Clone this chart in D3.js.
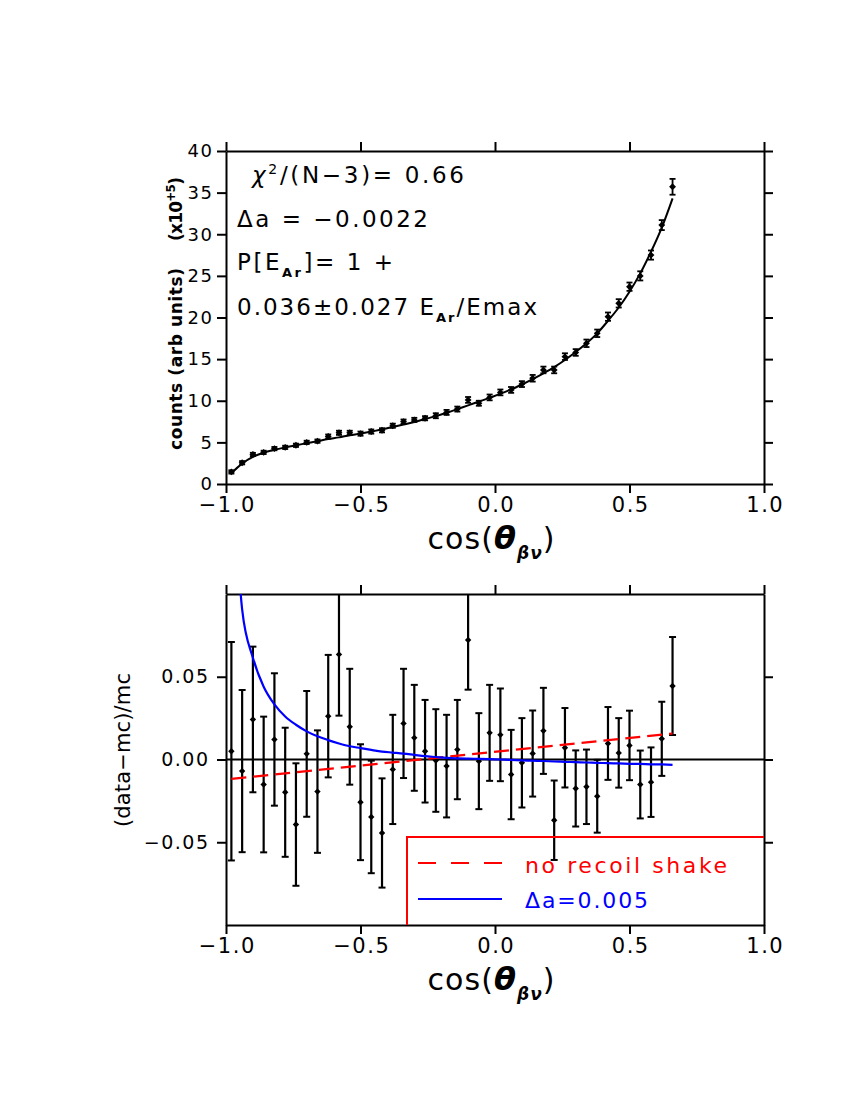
<!DOCTYPE html>
<html><head><meta charset="utf-8">
<script src="https://cdn.jsdelivr.net/npm/d3@7"></script>
<style>
body{margin:0;background:#fff}
svg{display:block}
text{font-family:"DejaVu Sans",Arial,Helvetica,sans-serif}
</style>
</head><body>
<svg id="c" width="850" height="1100"></svg>
<script>
// ---------------- data ----------------
const cosTheta = [-0.98,-0.94,-0.90,-0.86,-0.82,-0.78,-0.74,-0.70,-0.66,-0.62,-0.58,-0.54,-0.50,-0.46,-0.42,-0.38,-0.34,-0.30,-0.26,-0.22,-0.18,-0.14,-0.10,-0.06,-0.02,0.02,0.06,0.10,0.14,0.18,0.22,0.26,0.30,0.34,0.38,0.42,0.46,0.50,0.54,0.58,0.62,0.66];
const counts = [1.45,2.55,3.55,3.8,4.25,4.4,4.65,5.0,5.15,5.7,6.15,6.15,6.05,6.3,6.45,7.0,7.5,7.7,7.9,8.2,8.6,9.0,10.1,9.7,10.4,11.0,11.3,12.0,12.7,13.7,13.7,15.3,15.8,16.9,18.1,20.1,21.7,23.7,25.0,27.5,31.1,35.7];
const countsErr = [0.2,0.2,0.2,0.2,0.2,0.2,0.2,0.2,0.2,0.25,0.25,0.25,0.25,0.25,0.25,0.25,0.25,0.25,0.25,0.3,0.3,0.3,0.35,0.3,0.35,0.35,0.35,0.35,0.4,0.4,0.4,0.4,0.4,0.45,0.45,0.5,0.5,0.5,0.55,0.55,0.6,0.95];
const countsFit = [1.3,2.45,3.25,3.75,4.1,4.4,4.65,4.9,5.15,5.4,5.6,5.85,6.05,6.3,6.55,6.85,7.15,7.45,7.8,8.15,8.55,9.0,9.45,9.9,10.35,10.85,11.35,11.95,12.6,13.3,14.05,14.9,15.85,16.9,18.1,19.6,21.2,23.1,25.3,27.9,30.8,34.3];
const resid = [0.005,-0.007,0.0242,-0.0151,0.0121,-0.0198,-0.0393,0.0034,-0.0194,0.0262,0.0635,0.0198,-0.0258,-0.0347,-0.0444,-0.006,0.0218,0.0131,0.005,-0.0006,-0.004,0.006,0.0722,-0.001,0.0161,0.0149,-0.0091,-0.002,0.0036,0.0173,-0.0367,0.0071,-0.0175,-0.0165,-0.0222,0.0097,0.004,0.0085,-0.0151,-0.0137,0.0125,0.0444];
const residErr = [0.066,0.049,0.044,0.041,0.040,0.039,0.037,0.038,0.037,0.037,0.037,0.035,0.035,0.034,0.033,0.033,0.033,0.032,0.031,0.031,0.031,0.030,0.030,0.029,0.029,0.028,0.027,0.027,0.026,0.026,0.024,0.024,0.023,0.0225,0.022,0.022,0.021,0.021,0.0205,0.021,0.0224,0.0296];
const noShakeX = [-0.98,0.66];
const noShakeY = [-0.0117,0.0157];
const deltaA005 = [0.19,0.0907,0.0615,0.044,0.0333,0.026,0.021,0.017,0.014,0.0117,0.0097,0.008,0.0069,0.0058,0.0048,0.0042,0.0036,0.0028,0.002,0.0015,0.001,0.0007,0.0005,0.0004,0.0002,0.0,-0.0002,-0.0005,-0.0007,-0.0009,-0.0012,-0.0014,-0.0016,-0.0018,-0.002,-0.0022,-0.0024,-0.0026,-0.0027,-0.0029,-0.003,-0.0032];
const xTicks = [-1.0,-0.5,0.0,0.5,1.0];
const countTicks = [0,5,10,15,20,25,30,35,40];
const residTicks = [-0.05,0.00,0.05];
const legendLabels = ["no recoil shake","Δa=0.005"];

// ---------------- layout ----------------
const svg = d3.select("#c");
const X0 = 226, X1 = 764;
const pTop = {t:151, b:484};
const pBot = {t:594, b:925};
const x = d3.scaleLinear().domain([-1,1]).range([X0,X1]);
const yT = d3.scaleLinear().domain([0,40]).range([pTop.b, pTop.t]);
const yB = d3.scaleLinear().domain([-0.1,0.1]).range([pBot.b, pBot.t]);
const minus = s => s.replace("-", "−");
const fmtX = d => minus(d3.format(".1f")(d));
const fmtB = d => minus(d3.format(".2f")(d));
const TS = 9, AXW = 2;

function frame(ys, yt, fmtY, p, yfs, yls, ypad){
  const gB = svg.append("g").attr("transform",`translate(0,${p.b})`)
    .call(d3.axisBottom(x).tickValues(xTicks).tickFormat(fmtX).tickSize(TS).tickSizeOuter(0).tickPadding(4));
  const gT = svg.append("g").attr("transform",`translate(0,${p.t})`)
    .call(d3.axisTop(x).tickValues(xTicks).tickFormat("").tickSize(TS).tickSizeOuter(0));
  const gL = svg.append("g").attr("transform",`translate(${X0},0)`)
    .call(d3.axisLeft(ys).tickValues(yt).tickFormat(fmtY).tickSize(TS).tickSizeOuter(0).tickPadding(ypad));
  const gR = svg.append("g").attr("transform",`translate(${X1},0)`)
    .call(d3.axisRight(ys).tickValues(yt).tickFormat("").tickSize(TS).tickSizeOuter(0));
  [gB,gT,gL,gR].forEach(g=>{
    g.select(".domain").attr("stroke","#000").attr("stroke-width",AXW);
    g.selectAll(".tick line").attr("stroke","#000").attr("stroke-width",AXW);
    g.selectAll(".tick text").attr("fill","#000").style("font-family",'"DejaVu Sans",Arial,sans-serif');
  });
  gB.selectAll(".tick text").style("font-size","21px").style("letter-spacing","1.5px").attr("dx","0.75px");
  gL.selectAll(".tick text").style("font-size",yfs+"px").style("letter-spacing",yls+"px");
}

// ---------------- top panel ----------------
frame(yT, countTicks, d=>String(d), pTop, 18, 1.5, 3.5);
const topData = cosTheta.map((c,i)=>({x:c,y:counts[i],e:countsErr[i],f:countsFit[i]}));
svg.append("path").datum(topData)
  .attr("d", d3.line().x(d=>x(d.x)).y(d=>yT(d.f)).curve(d3.curveMonotoneX))
  .attr("fill","none").attr("stroke","#000").attr("stroke-width",2);
const gTp = svg.append("g");
topData.forEach(d=>{
  const cx=x(d.x);
  gTp.append("line").attr("x1",cx).attr("x2",cx).attr("y1",yT(d.y-d.e)).attr("y2",yT(d.y+d.e)).attr("stroke","#000").attr("stroke-width",1.8);
  [d.y-d.e,d.y+d.e].forEach(v=>gTp.append("line").attr("x1",cx-3).attr("x2",cx+3).attr("y1",yT(v)).attr("y2",yT(v)).attr("stroke","#000").attr("stroke-width",1.8));
  gTp.append("path").attr("d",d3.symbol(d3.symbolDiamond2,30)()).attr("transform",`translate(${cx},${yT(d.y)})`).attr("fill","#000");
});

// annotations
const ann = svg.append("g").style("font-size","23px").attr("fill","#000");
function fitText(t, len){ t.attr("textLength",len).attr("lengthAdjust","spacing"); return t; }
const t1 = fitText(ann.append("text").attr("x",252).attr("y",183), 212);
t1.append("tspan").style("font-style","italic").text("χ");
t1.append("tspan").attr("dy",-9).style("font-size","14px").text("2");
t1.append("tspan").attr("dy",9).text("/(N−3)= 0.66");
fitText(ann.append("text").attr("x",237).attr("y",227), 191).text("Δa = −0.0022");
const t3 = fitText(ann.append("text").attr("x",237).attr("y",270), 156);
t3.append("tspan").text("P[E");
t3.append("tspan").attr("dy",7).style("font-size","13px").style("font-weight","bold").text("Ar");
t3.append("tspan").attr("dy",-7).text("]= 1 +");
const t4 = fitText(ann.append("text").attr("x",237).attr("y",315), 300);
t4.append("tspan").text("0.036±0.027 E");
t4.append("tspan").attr("dy",7).style("font-size","13px").style("font-weight","bold").text("Ar");
t4.append("tspan").attr("dy",-7).text("/Emax");

// y label top
fitText(svg.append("text").attr("transform","translate(182,359) rotate(-90)").attr("text-anchor","middle")
  .style("font-size","17px").style("font-weight","bold"), 182).text("counts (arb units)");
const yl2 = fitText(svg.append("text").attr("transform","translate(182,209) rotate(-90)").attr("text-anchor","middle")
  .style("font-size","17px").style("font-weight","bold"), 64);
yl2.append("tspan").text("(x10");
yl2.append("tspan").attr("dy",-7).style("font-size","12px").text("+5");
yl2.append("tspan").attr("dy",7).text(")");

function xLabel(yb){
  const t = fitText(svg.append("text").attr("x",491).attr("y",yb).attr("text-anchor","middle").style("font-size","30px"), 127);
  t.append("tspan").text("cos(");
  t.append("tspan").style("font-style","italic").style("font-weight","bold").style("font-size","32px").text("θ");
  t.append("tspan").attr("dy",10).style("font-size","17px").style("font-style","italic").style("font-weight","bold").text("βν");
  t.append("tspan").attr("dy",-10).text(")");
}
xLabel(549);

// ---------------- bottom panel ----------------
frame(yB, residTicks, fmtB, pBot, 19, 1.5, 7.5);
svg.append("defs").append("clipPath").attr("id","clipB").append("rect")
  .attr("x",X0).attr("y",pBot.t).attr("width",X1-X0).attr("height",pBot.b-pBot.t);
const gBp = svg.append("g").attr("clip-path","url(#clipB)");
gBp.append("line").attr("x1",X0).attr("x2",X1).attr("y1",yB(0)).attr("y2",yB(0)).attr("stroke","#000").attr("stroke-width",2);
const botData = cosTheta.map((c,i)=>({x:c,y:resid[i],e:residErr[i],b:deltaA005[i]}));
botData.forEach(d=>{
  const cx=x(d.x);
  gBp.append("line").attr("x1",cx).attr("x2",cx).attr("y1",yB(d.y-d.e)).attr("y2",yB(d.y+d.e)).attr("stroke","#000").attr("stroke-width",2.2);
  [d.y-d.e,d.y+d.e].forEach(v=>gBp.append("line").attr("x1",cx-3.5).attr("x2",cx+3.5).attr("y1",yB(v)).attr("y2",yB(v)).attr("stroke","#000").attr("stroke-width",2));
  gBp.append("path").attr("d",d3.symbol(d3.symbolDiamond2,26)()).attr("transform",`translate(${cx},${yB(d.y)})`).attr("fill","#000");
});
gBp.append("path").datum(noShakeX.map((c,i)=>({x:c,y:noShakeY[i]})))
  .attr("d",d3.line().x(d=>x(d.x)).y(d=>yB(d.y)))
  .attr("fill","none").attr("stroke","#ff0000").attr("stroke-width",2.2).attr("stroke-dasharray","15,7");
gBp.append("path").datum(botData)
  .attr("d",d3.line().x(d=>x(d.x)).y(d=>yB(d.b)).curve(d3.curveMonotoneX))
  .attr("fill","none").attr("stroke","#0000ff").attr("stroke-width",2.2);

// legend
const leg = svg.append("g");
leg.append("path").attr("d",`M407,${pBot.b}V837H${X1}`).attr("fill","none").attr("stroke","#ff0000").attr("stroke-width",2);
leg.append("line").attr("x1",418).attr("x2",502).attr("y1",863).attr("y2",863).attr("stroke","#ff0000").attr("stroke-width",2).attr("stroke-dasharray","18,15");
fitText(leg.append("text").attr("x",525).attr("y",873).attr("fill","#ff0000").style("font-size","22px"), 202).text(legendLabels[0]);
leg.append("line").attr("x1",418).attr("x2",502).attr("y1",899).attr("y2",899).attr("stroke","#0000ff").attr("stroke-width",2);
fitText(leg.append("text").attr("x",525).attr("y",908).attr("fill","#0000ff").style("font-size","22px"), 123).text(legendLabels[1]);

fitText(svg.append("text").attr("transform","translate(130,750) rotate(-90)").attr("text-anchor","middle")
  .style("font-size","21px"), 154).text("(data−mc)/mc");
xLabel(990);
</script>
</body></html>
